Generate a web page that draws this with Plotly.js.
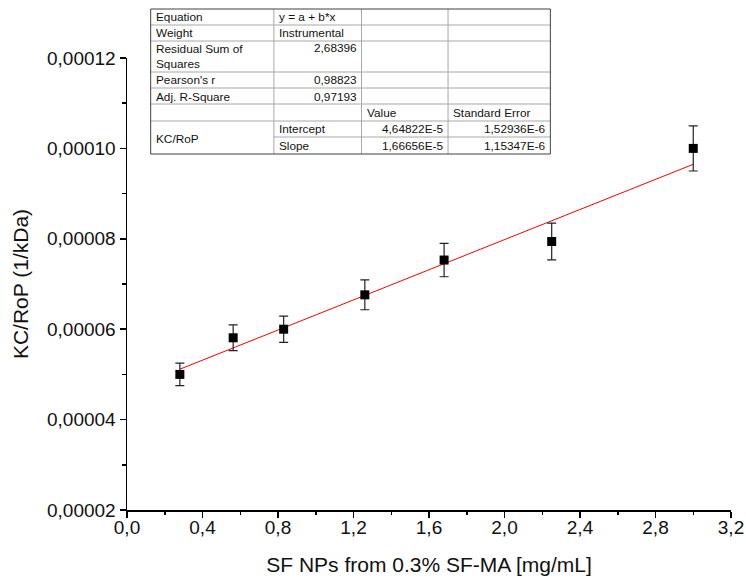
<!DOCTYPE html>
<html>
<head>
<meta charset="utf-8">
<script src="https://cdn.plot.ly/plotly-3.0.1.min.js"></script>
<style>
html,body{margin:0;padding:0;background:#fff;}
#chart{width:746px;height:583px;}
</style>
</head>
<body>
<div id="chart"></div>
<script>
// ---- data ----
const xVals = [0.28, 0.5625, 0.83, 1.26, 1.68, 2.25, 3.0];
const yVals = [5.0e-5, 5.81e-5, 6.0e-5, 6.76e-5, 7.53e-5, 7.94e-5, 1.0e-4];
const yErr  = [2.5e-6, 2.85e-6, 2.9e-6, 3.3e-6, 3.7e-6, 4.05e-6, 5.0e-6];

// linear fit (from the fit table): y = a + b*x, drawn between the first and last x
const fitIntercept = 4.64822e-5;
const fitSlope = 1.66656e-5;
const fitX = [0.28, 3.0];
const fitY = [5.115e-5, 9.648e-5];

// fit table text
const tableLabels = ["Equation", "Weight", "Residual Sum of<br>Squares", "Pearson's r", "Adj. R-Square"];
const tableCol2 = ["y = a + b*x", "Instrumental"];
const tableStats = ["2,68396", "0,98823", "0,97193"];
const tableHeader = ["Value", "Standard Error"];
const tableGroup = "KC/RoP";
const paramNames = ["Intercept", "Slope"];
const paramValues = ["4,64822E-5", "1,66656E-5"];
const paramErrors = ["1,52936E-6", "1,15347E-6"];

// ---- layout geometry (pixels) ----
const W = 746, H = 583;
const M = {l: 127, r: 14.5, t: 58, b: 73};
const pw = W - M.l - M.r, ph = H - M.t - M.b;
const px = x => (x - M.l) / pw;
const py = y => (H - M.b - y) / ph;

const FONT = 'Arial, "Liberation Sans", sans-serif';
const cols = [150.7, 274, 361.7, 448.3, 550.7];
const rows = [9, 25, 41, 72, 88, 104, 121, 137, 154];

const shapes = [];
const annotations = [];
const inner = '#a8a8a8', outer = '#404040';
function hline(y, x0, x1, c) {
  shapes.push({type:'line', xref:'paper', yref:'paper', x0:px(x0), x1:px(x1), y0:py(y), y1:py(y), line:{color:c, width:1}});
}
function vline(x, y0, y1, c) {
  shapes.push({type:'line', xref:'paper', yref:'paper', x0:px(x), x1:px(x), y0:py(y0), y1:py(y1), line:{color:c, width:1}});
}
// background
shapes.push({type:'rect', xref:'paper', yref:'paper', x0:px(cols[0]), x1:px(cols[4]), y0:py(rows[8]), y1:py(rows[0]), fillcolor:'#ffffff', line:{width:0}});
// inner horizontal lines
for (let i = 1; i <= 6; i++) hline(rows[i], cols[0], cols[4], inner);
hline(rows[7], cols[1], cols[4], inner);
// inner vertical lines
for (let j = 1; j <= 3; j++) vline(cols[j], rows[0], rows[8], inner);
// outer border
hline(rows[0], cols[0], cols[4], outer);
hline(rows[8], cols[0], cols[4], outer);
vline(cols[0], rows[0], rows[8], outer);
vline(cols[4], rows[0], rows[8], outer);

function txt(t, x, y, anchor) {
  annotations.push({text:t, xref:'paper', yref:'paper', x:px(x), y:py(y), xanchor:anchor, yanchor:'middle',
    align:'left', showarrow:false, font:{family:FONT, size:11.8, color:'#111'}});
}
const pad = 3;
// column 1 labels
txt(tableLabels[0], cols[0]+pad, 16.7, 'left');
txt(tableLabels[1], cols[0]+pad, 33.3, 'left');
txt(tableLabels[2], cols[0]+pad, 57, 'left');
txt(tableLabels[3], cols[0]+pad, 80, 'left');
txt(tableLabels[4], cols[0]+pad, 96.7, 'left');
txt(tableGroup, cols[0]+pad, 139.3, 'left');
// column 2
txt(tableCol2[0], cols[1]+pad, 16.7, 'left');
txt(tableCol2[1], cols[1]+pad, 33.3, 'left');
txt(tableStats[0], cols[2]-pad, 48.3, 'right');
txt(tableStats[1], cols[2]-pad, 80, 'right');
txt(tableStats[2], cols[2]-pad, 96.7, 'right');
txt(paramNames[0], cols[1]+pad, 129.3, 'left');
txt(paramNames[1], cols[1]+pad, 146, 'left');
// header
txt(tableHeader[0], cols[2]+pad, 113.3, 'left');
txt(tableHeader[1], cols[3]+pad, 113.3, 'left');
// values
txt(paramValues[0], cols[3]-pad, 129.3, 'right');
txt(paramValues[1], cols[3]-pad, 146, 'right');
txt(paramErrors[0], cols[4]-pad, 129.3, 'right');
txt(paramErrors[1], cols[4]-pad, 146, 'right');

const traces = [
  {
    x: fitX, y: fitY, type:'scatter', mode:'lines',
    line:{color:'#ff0000', width:1}, hoverinfo:'skip', showlegend:false
  },
  {
    x: xVals, y: yVals, type:'scatter', mode:'markers',
    marker:{symbol:'square', size:9, color:'#000', line:{width:0}},
    error_y:{type:'data', array:yErr, visible:true, color:'#222', thickness:1.2, width:4.5},
    showlegend:false
  }
];

const axisCommon = {
  showgrid:false, zeroline:false, showline:true, linecolor:'#000', linewidth:1.5,
  ticks:'outside', ticklen:6, tickwidth:1.5, tickcolor:'#000',
  tickfont:{family:FONT, size:19, color:'#111'},
  mirror:false
};

const layout = {
  width:W, height:H,
  margin:{l:M.l, r:M.r, t:M.t, b:M.b, pad:0},
  paper_bgcolor:'#fff', plot_bgcolor:'#fff',
  separators:', ',
  font:{family:FONT, color:'#111'},
  showlegend:false,
  xaxis: Object.assign({}, axisCommon, {
    range:[0, 3.2], tick0:0, dtick:0.4, tickformat:'.1f',
    ticklabelstandoff:-6,
    minor:{dtick:0.2, ticks:'outside', ticklen:3.5, tickwidth:1.5, tickcolor:'#000', showgrid:false},
    title:{text:'SF NPs from 0.3% SF-MA [mg/mL]', font:{family:FONT, size:21, color:'#111'}, standoff:20},
    automargin:false
  }),
  yaxis: Object.assign({}, axisCommon, {
    range:[0.00002, 0.00012], tick0:0.00002, dtick:0.00002, tickformat:'.5f',
    minor:{dtick:0.00001, ticks:'outside', ticklen:3.5, tickwidth:1.5, tickcolor:'#000', showgrid:false},
    title:{text:'KC/RoP (1/kDa)', font:{family:FONT, size:21, color:'#111'}, standoff:12},
    automargin:false
  }),
  shapes: shapes,
  annotations: annotations
};

Plotly.newPlot('chart', traces, layout, {displayModeBar:false, staticPlot:true});
</script>
</body>
</html>
